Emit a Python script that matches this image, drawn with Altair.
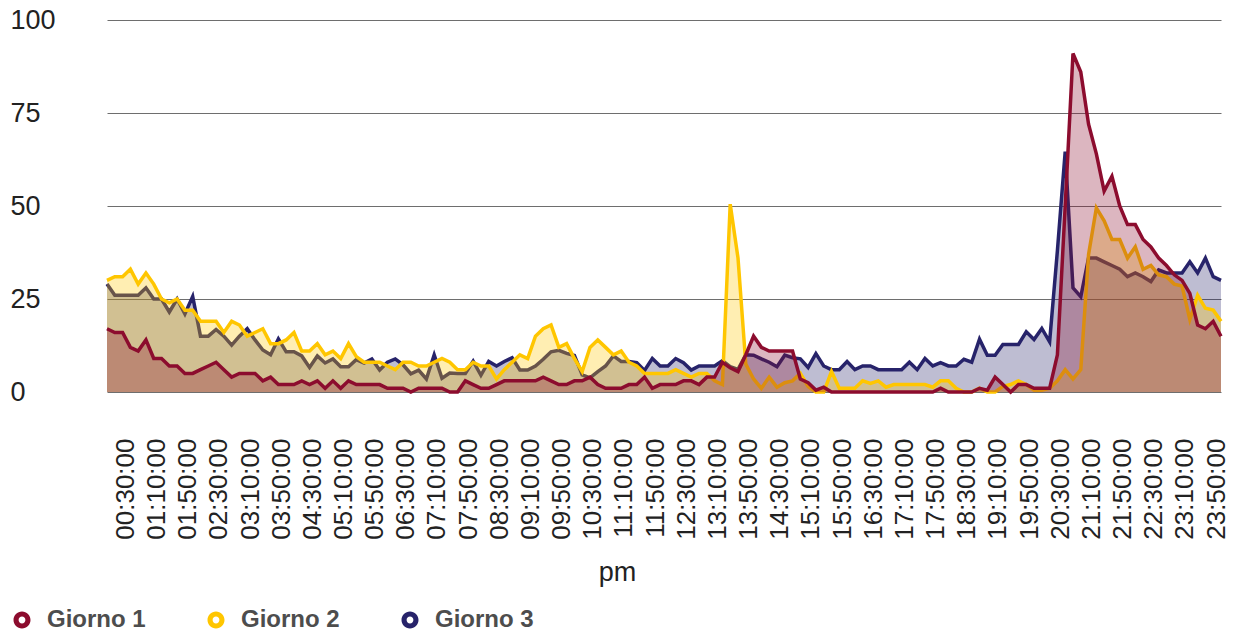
import altair as alt
import pandas as pd

# ---- data ----
times = [f"{h:02d}:{m:02d}:00" for h in range(24) for m in range(0, 60, 10)]

tick_labels = ["00:30:00", "01:10:00", "01:50:00", "02:30:00", "03:10:00", "03:50:00",
               "04:30:00", "05:10:00", "05:50:00", "06:30:00", "07:10:00", "07:50:00",
               "08:30:00", "09:10:00", "09:50:00", "10:30:00", "11:10:00", "11:50:00",
               "12:30:00", "13:10:00", "13:50:00", "14:30:00", "15:10:00", "15:50:00",
               "16:30:00", "17:10:00", "17:50:00", "18:30:00", "19:10:00", "19:50:00",
               "20:30:00", "21:10:00", "21:50:00", "22:30:00", "23:10:00", "23:50:00"]

giorno1 = [17, 16, 16, 12, 11, 14, 9, 9, 7, 7,
           5, 5, 6, 7, 8, 6, 4, 5, 5, 5,
           3, 4, 2, 2, 2, 3, 2, 3, 1, 3,
           1, 3, 2, 2, 2, 2, 1, 1, 1, 0,
           1, 1, 1, 1, 0, 0, 3, 2, 1, 1,
           2, 3, 3, 3, 3, 3, 4, 3, 2, 2,
           3, 3, 4, 2, 1, 1, 1, 2, 2, 4,
           1, 2, 2, 2, 3, 3, 2, 4, 4, 8,
           6.5, 5.5, 10, 15, 12, 11, 11, 11, 11, 3.5,
           2.5, 0.5, 1.3, 0, 0, 0, 0, 0, 0, 0,
           0, 0, 0, 0, 0, 0, 0, 1, 0, 0,
           0, 0, 1, 0.5, 4, 2, 0, 2, 2, 1,
           1, 1, 10, 50, 91, 86, 72, 64, 54, 58,
           50, 45, 45, 41, 39, 36, 34, 31.5, 30, 26.5,
           18, 17, 19, 15]

giorno2 = [30, 31, 31, 33, 29, 32, 29, 25, 24, 25,
           22, 22, 19, 19, 19, 16, 19, 18, 15, 16,
           17, 13, 13, 14, 16, 11, 11, 13, 10, 11,
           9, 13, 9.5, 8, 8, 8, 7, 6, 8, 8,
           7, 7, 8, 9, 8, 6, 6, 8, 7, 7,
           3.5, 6, 8, 10, 9, 15, 17, 18, 12, 13,
           9, 5.5, 12, 14, 12, 10, 11, 8, 7, 5,
           5, 5, 5, 6, 5, 4, 5, 5, 3, 2,
           50.5, 36, 7.5, 3.5, 1, 4, 1.3, 2.5, 3, 5,
           1.5, 0, 0, 5.5, 1, 1, 1, 3, 2.3, 3,
           1.3, 2, 2, 2, 2, 2, 1.3, 3, 3, 1,
           0, 0, 1, 0, 0, 1.5, 2, 3, 2, 0.5,
           0.5, 1, 3, 6, 3.5, 6, 37, 49.5, 46, 41,
           41, 36, 39, 33, 34, 31.5, 31, 29, 28.5, 19.5,
           26, 22.5, 22, 19]

giorno3 = [29, 26, 26, 26, 26, 28, 25, 25, 21.5, 25,
           21, 25.7, 15, 15, 16.8, 15, 12.6, 15, 17, 14,
           11.3, 10, 14.3, 10.8, 10.8, 9.7, 6.6, 9.7, 7.8, 8.9,
           6.8, 6.8, 8.7, 7.8, 8.9, 5.9, 8, 8.9, 7.3, 4.9,
           5.9, 3.5, 10, 3.7, 5.1, 5, 5, 8.3, 4.5, 8.2,
           7, 8.2, 9.2, 5.9, 5.9, 7, 8.8, 10.8, 11.2, 10.4,
           9.8, 4.6, 3.8, 5.5, 7, 9.7, 8.2, 8.2, 7.9, 5.8,
           9, 7, 7, 9, 7.9, 5.9, 7, 7, 7, 8.4,
           6.8, 6.1, 10, 9.9, 8.9, 8, 6.8, 9.9, 9.2, 8.9,
           6.6, 10.3, 7, 6, 6, 8.2, 6, 7, 7, 6,
           6, 6, 6, 8, 6, 9, 7, 7.9, 7, 7,
           8.8, 8, 14.2, 9.9, 9.9, 12.8, 12.8, 12.8, 16.2, 14.1,
           17.1, 13.5, 38, 64.6, 28, 25.6, 36, 36, 35, 34,
           33, 31, 32, 31, 29.7, 32.8, 32, 32, 32, 35,
           32, 36, 31, 30]

series_names = ["Giorno 1", "Giorno 2", "Giorno 3"]
series_colors = ["#8C0C2E", "#FFC600", "#27236A"]
y_ticks = [0, 25, 50, 75, 100]

rows = []
for name, vals in zip(series_names, [giorno1, giorno2, giorno3]):
    for t, v in zip(times, vals):
        rows.append({"ora": t, "serie": name, "area_serie": name, "valore": v})
df = pd.DataFrame(rows)

FONT = "Liberation Sans, Arial, sans-serif"
line_scale = alt.Scale(domain=series_names, range=series_colors)
fill_scale = alt.Scale(domain=series_names, range=series_colors)

# ring-shaped legend symbol (outer circle minus inner circle)
RING = ("M -1 0 A 1 1 0 1 0 1 0 A 1 1 0 1 0 -1 0 Z "
        "M -0.4 0 A 0.4 0.4 0 1 1 0.4 0 A 0.4 0.4 0 1 1 -0.4 0 Z")

legend_def = alt.Legend(
    title=None, orient="none", legendX=-97, legendY=588, direction="horizontal",
    symbolType=RING, symbolSize=289, symbolStrokeWidth=0, symbolOpacity=1,
    labelFont=FONT, labelFontSize=24, labelFontWeight="bold",
    labelColor="#4d4d4d", labelOffset=13, columnPadding=58,
)

base = alt.Chart(df).encode(
    x=alt.X("ora:O", sort=times, scale=alt.Scale(type="point", padding=0),
            axis=alt.Axis(values=tick_labels, title="pm", domain=False, ticks=False, grid=False,
                          labelAngle=270, labelAlign="right", labelBaseline="middle",
                          labelPadding=46, labelOffset=-5, labelOverlap=False,
                          labelFont=FONT, labelFontSize=26,
                          labelColor="#222222", titleFont=FONT, titleFontSize=27,
                          titleFontWeight="normal", titleColor="#222222", titleX=510, titleY=180,
                          titleBaseline="middle", titleAlign="center")),
    y=alt.Y("valore:Q", stack=None, scale=alt.Scale(domain=[0, 100], nice=False),
            axis=alt.Axis(values=y_ticks, title=None, domain=False, ticks=False, grid=True,
                          gridColor="#6e6e6e", gridWidth=1, labelFont=FONT, labelFontSize=27,
                          labelColor="#222222", labelAlign="left", labelBaseline="middle",
                          labelPadding=97)),
)

layers = []
for s in ["Giorno 3", "Giorno 2", "Giorno 1"]:
    sub = base.transform_filter(alt.datum.serie == s)
    layers.append(sub.mark_area(fillOpacity=0.3).encode(
        fill=alt.Fill("area_serie:N", scale=fill_scale, legend=legend_def)))
    layers.append(sub.mark_line(strokeWidth=3.5).encode(
        color=alt.Color("serie:N", scale=line_scale, legend=None)))

chart = alt.layer(*layers).properties(
    width=1114, height=372,
    autosize=alt.AutoSizeParams(type="none"),
    padding={"left": 99, "top": 12, "right": 6, "bottom": 240},
    background="white",
).configure_view(stroke=None)

chart.save("out.html", embed_options={"renderer": "svg", "actions": False})
